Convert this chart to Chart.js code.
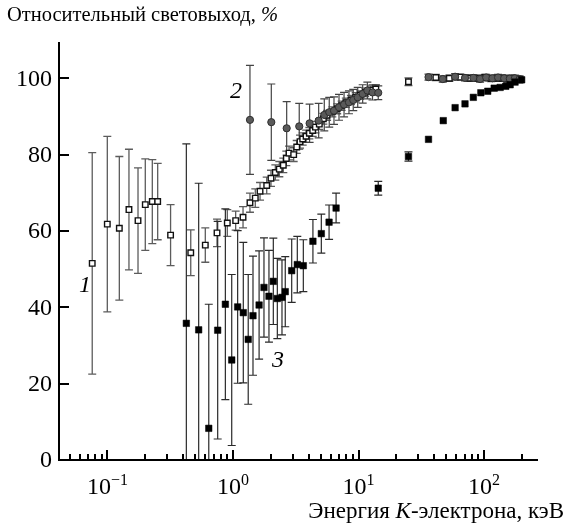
<!DOCTYPE html>
<html>
<head>
<meta charset="utf-8">
<script src="https://cdn.jsdelivr.net/npm/chart.js@4/dist/chart.umd.min.js"></script>
<style>
  html, body { margin: 0; padding: 0; background: #fff; }
  #c { display: block; }
</style>
</head>
<body>
<canvas id="c" width="572" height="526"></canvas>
<script>
// Series 1: open squares (energy in keV, relative light output in %, error)
const energy1 = [0.0756, 0.0997, 0.1243, 0.1483, 0.1751, 0.2001, 0.2276, 0.2512, 0.3182, 0.4607, 0.6017, 0.7459, 0.9007, 1.050, 1.202, 1.365, 1.505, 1.642, 1.856, 2.007, 2.174, 2.339, 2.516, 2.659, 2.795, 3.043, 3.218, 3.418, 3.591, 3.821, 4.058, 4.314, 4.536, 4.870, 5.245, 5.618, 6.185, 6.761, 7.337, 7.921, 8.703, 9.495, 10.29, 11.29, 12.52, 13.74, 24.99, 41.3, 52.9, 64.8, 76.8, 89.1, 101.5, 114.0, 126.7, 139.6, 152.5, 165.5, 178.7, 191.9];
const light1  = [51.5, 61.8, 60.7, 65.6, 62.7, 66.9, 67.7, 67.7, 58.9, 54.3, 56.3, 59.5, 62.1, 62.7, 63.6, 67.4, 68.6, 70.4, 71.9, 73.8, 75.3, 76.2, 77.2, 79.0, 80.4, 80.0, 82.0, 83.4, 84.1, 84.8, 85.6, 86.3, 87.2, 88.0, 89.4, 90.3, 91.2, 92.0, 92.8, 93.6, 94.3, 95.0, 95.6, 96.3, 96.9, 97.2, 99.1, 100.2, 100.0, 100.3, 100.0, 100.0, 100.2, 99.9, 100.0, 100.0, 99.8, 100.0, 99.8, 99.6];
const err1    = [29, 23, 18.8, 15.8, 13.8, 12, 11, 10, 8, 6, 4.5, 3.6, 3.5, 2.5, 2.8, 2.5, 2.4, 2.3, 2.2, 2.1, 2.0, 2.0, 1.9, 1.9, 1.8, 1.8, 1.7, 1.7, 1.6, 1.6, 1.5, 1.5, 1.5, 1.4, 1.4, 1.3, 1.3, 1.3, 1.2, 1.2, 1.2, 1.2, 1.1, 1.1, 1.1, 1.1, 1.0, 0.8, 0.8, 0.8, 0.8, 0.8, 0.8, 0.8, 0.8, 0.8, 0.8, 0.8, 0.8, 0.8];

// Series 2: grey circles
const energy2 = [1.365, 2.019, 2.677, 3.370, 4.076, 4.814, 5.336, 5.844, 6.376, 6.991, 7.668, 8.390, 9.078, 9.854, 10.79, 11.76, 12.92, 14.36, 36.10, 46.87, 58.81, 70.51, 82.15, 93.0, 104.0, 116.6, 129.3, 144.7, 160.3, 176.0, 191.9];
const light2  = [89.1, 88.5, 86.9, 87.4, 88.2, 88.9, 90.4, 91.1, 91.5, 92.4, 93.1, 93.7, 94.3, 95.0, 95.9, 96.8, 96.3, 96.2, 100.3, 99.8, 100.4, 100.1, 100.1, 99.8, 100.2, 100.0, 100.2, 100.0, 99.9, 100.0, 99.8];
const err2    = [14.3, 10, 7, 6, 5, 4.5, 4.2, 3.9, 3.6, 3.4, 3.2, 3.0, 2.8, 2.6, 2.4, 2.2, 2.0, 1.8, 0.8, 0.8, 0.8, 0.8, 0.8, 0.8, 0.8, 0.8, 0.8, 0.8, 0.8, 0.8, 0.8];

// Series 3: filled squares
const energy3 = [0.4249, 0.5328, 0.6412, 0.7551, 0.8692, 0.9768, 1.089, 1.208, 1.322, 1.443, 1.614, 1.765, 1.934, 2.095, 2.255, 2.456, 2.608, 2.935, 3.253, 3.633, 4.332, 5.054, 5.826, 6.626, 14.36, 24.99, 36.10, 47.33, 58.81, 70.51, 82.15, 94.25, 106.98, 120.4, 134.4, 148.9, 161.4, 176.6, 199.4];
const light3  = [35.8, 34.1, 8.3, 34.0, 40.8, 26.2, 40.1, 38.6, 31.6, 37.8, 40.6, 45.2, 42.9, 46.8, 42.3, 42.6, 44.1, 49.6, 51.2, 50.9, 57.3, 59.3, 62.3, 66.0, 71.2, 79.5, 84.0, 88.9, 92.3, 93.3, 95.0, 96.2, 96.6, 97.4, 97.6, 97.9, 98.3, 99.0, 99.6];
const err3    = [47, 38.4, 32.5, 28.5, 25, 22.4, 20, 18.4, 17, 15.6, 14.2, 13, 12, 11.3, 10.5, 9.8, 9.2, 8.3, 7.4, 6.8, 5.7, 5.1, 4.5, 3.9, 1.8, 1.2, 0, 0, 0, 0, 0, 0, 0, 0, 0, 0, 0, 0, 0];

// Axis ticks and labels
const yTicks = [0, 20, 40, 60, 80, 100];
const xDecades = [-1, 0, 1, 2];
const xMinorMultipliers = [2, 3, 4, 5, 6, 7, 8, 9];
const yTitle = 'Относительный световыход, ';
const yTitleUnit = '%';
const xTitleParts = ['Энергия ', 'K', '-электрона, кэВ'];

// Curve numbers and where they sit (energy, light output)
const curveNames = ['1', '2', '3'];
const curveNameX = [0.0661, 1.056, 2.278];
const curveNameY = [45.8, 96.8, 26.2];

const FONT = '"Liberation Serif", "DejaVu Serif", serif';

function toPoints(xs, ys) { return xs.map((v, i) => ({ x: v, y: ys[i] })); }

const errorSets = [
  { xs: energy1, ys: light1, es: err1, color: '#5c5c5c', width: 1.3 },
  { xs: energy2, ys: light2, es: err2, color: '#444444', width: 1.2 },
  { xs: energy3, ys: light3, es: err3, color: '#2a2a2a', width: 1.2 }
];

// Vertical error bars with caps, drawn beneath the markers
const errorBars = {
  id: 'errorBars',
  beforeDatasetsDraw(chart) {
    const { ctx, chartArea: a, scales: { x, y } } = chart;
    ctx.save();
    ctx.beginPath();
    ctx.rect(a.left, a.top - 5, a.right - a.left, a.bottom - a.top + 5);
    ctx.clip();
    errorSets.forEach(s => {
      ctx.strokeStyle = s.color;
      ctx.lineWidth = s.width;
      s.xs.forEach((xv, i) => {
        const e = s.es[i];
        if (!e) return;
        const px = x.getPixelForValue(xv);
        const top = y.getPixelForValue(s.ys[i] + e);
        const bot = y.getPixelForValue(s.ys[i] - e);
        ctx.beginPath();
        ctx.moveTo(px, top); ctx.lineTo(px, bot);
        ctx.moveTo(px - 4, top); ctx.lineTo(px + 4, top);
        ctx.moveTo(px - 4, bot); ctx.lineTo(px + 4, bot);
        ctx.stroke();
      });
    });
    ctx.restore();
  }
};

function drawRuns(ctx, runs, x, baseline, align) {
  let total = 0;
  runs.forEach(r => { ctx.font = r.font; total += ctx.measureText(r.text).width; });
  let cx = align === 'right' ? x - total : (align === 'center' ? x - total / 2 : x);
  runs.forEach(r => {
    ctx.font = r.font;
    ctx.fillText(r.text, cx, baseline + (r.dy || 0));
    cx += ctx.measureText(r.text).width;
  });
}

// Axes lines, inward ticks, tick labels, titles and curve numbers
const axisDecor = {
  id: 'axisDecor',
  afterDraw(chart) {
    const { ctx, chartArea: a, scales: { x, y } } = chart;
    ctx.save();
    ctx.strokeStyle = '#000';
    ctx.fillStyle = '#000';
    ctx.lineWidth = 2;
    ctx.beginPath();
    ctx.moveTo(a.left, a.top);
    ctx.lineTo(a.left, a.bottom);
    ctx.lineTo(a.right, a.bottom);
    ctx.stroke();

    ctx.beginPath();
    yTicks.forEach(v => {
      const py = Math.round(y.getPixelForValue(v));
      if (v === 0) return;
      ctx.moveTo(a.left, py); ctx.lineTo(a.left + 10, py);
    });
    xDecades.forEach(d => {
      const major = Math.pow(10, d);
      if (major >= x.min && major <= x.max) {
        const px = Math.round(x.getPixelForValue(major));
        ctx.moveTo(px, a.bottom); ctx.lineTo(px, a.bottom - 10);
      }
      xMinorMultipliers.forEach(m => {
        const v = m * major;
        if (v > x.min * 1.05 && v < x.max * 0.97) {
          const px = Math.round(x.getPixelForValue(v));
          ctx.moveTo(px, a.bottom); ctx.lineTo(px, a.bottom - 6);
        }
      });
    });
    [0.05, 0.06, 0.07, 0.08, 0.09].forEach(v => {
      if (v > x.min * 1.05) {
        const px = Math.round(x.getPixelForValue(v));
        ctx.moveTo(px, a.bottom); ctx.lineTo(px, a.bottom - 6);
      }
    });
    ctx.stroke();

    // y tick labels
    ctx.textBaseline = 'middle';
    ctx.textAlign = 'left';
    ctx.font = '24px ' + FONT;
    yTicks.forEach(v => {
      const py = y.getPixelForValue(v);
      const w = ctx.measureText(String(v)).width;
      ctx.fillText(String(v), a.left - 7 - w, py + 1);
    });

    // x tick labels as powers of ten
    ctx.textBaseline = 'alphabetic';
    xDecades.forEach(d => {
      const px = x.getPixelForValue(Math.pow(10, d));
      const expText = d < 0 ? '\u2212' + Math.abs(d) : String(d);
      drawRuns(ctx, [
        { text: '10', font: '24px ' + FONT },
        { text: expText, font: '16px ' + FONT, dy: -9 }
      ], px, 494, 'center');
    });

    // axis titles
    drawRuns(ctx, [
      { text: yTitle, font: '20.5px ' + FONT },
      { text: yTitleUnit, font: 'italic 20.5px ' + FONT }
    ], 7, 21, 'left');
    drawRuns(ctx, [
      { text: xTitleParts[0], font: '23px ' + FONT },
      { text: xTitleParts[1], font: 'italic 23px ' + FONT },
      { text: xTitleParts[2], font: '23px ' + FONT }
    ], 564, 518, 'right');

    // curve numbers
    ctx.font = 'italic 24px ' + FONT;
    ctx.textAlign = 'center';
    ctx.textBaseline = 'middle';
    curveNames.forEach((t, i) => {
      ctx.fillText(t, x.getPixelForValue(curveNameX[i]), y.getPixelForValue(curveNameY[i]) + 1);
    });
    ctx.restore();
  }
};

new Chart(document.getElementById('c'), {
  type: 'scatter',
  data: {
    datasets: [
      {
        label: '3',
        data: toPoints(energy3, light3),
        pointStyle: 'rect',
        pointRadius: 4.6,
        backgroundColor: '#000',
        borderColor: '#000',
        borderWidth: 0.5,
        order: 0
      },
      {
        label: '2',
        data: toPoints(energy2, light2),
        pointStyle: 'circle',
        pointRadius: 3.6,
        backgroundColor: '#5a5a5a',
        borderColor: '#2e2e2e',
        borderWidth: 1,
        order: 1
      },
      {
        label: '1',
        data: toPoints(energy1, light1),
        pointStyle: 'rect',
        pointRadius: 3.9,
        backgroundColor: '#fff',
        borderColor: '#111',
        borderWidth: 1.4,
        order: 2
      }
    ]
  },
  options: {
    responsive: false,
    animation: false,
    devicePixelRatio: 1,
    layout: { padding: { left: 59, top: 42, right: 34, bottom: 66 } },
    plugins: { legend: { display: false }, tooltip: { enabled: false } },
    scales: {
      x: { type: 'logarithmic', min: 0.0411, max: 269, display: false },
      y: { type: 'linear', min: 0, max: 109.5, display: false }
    }
  },
  plugins: [errorBars, axisDecor]
});
</script>
</body>
</html>
